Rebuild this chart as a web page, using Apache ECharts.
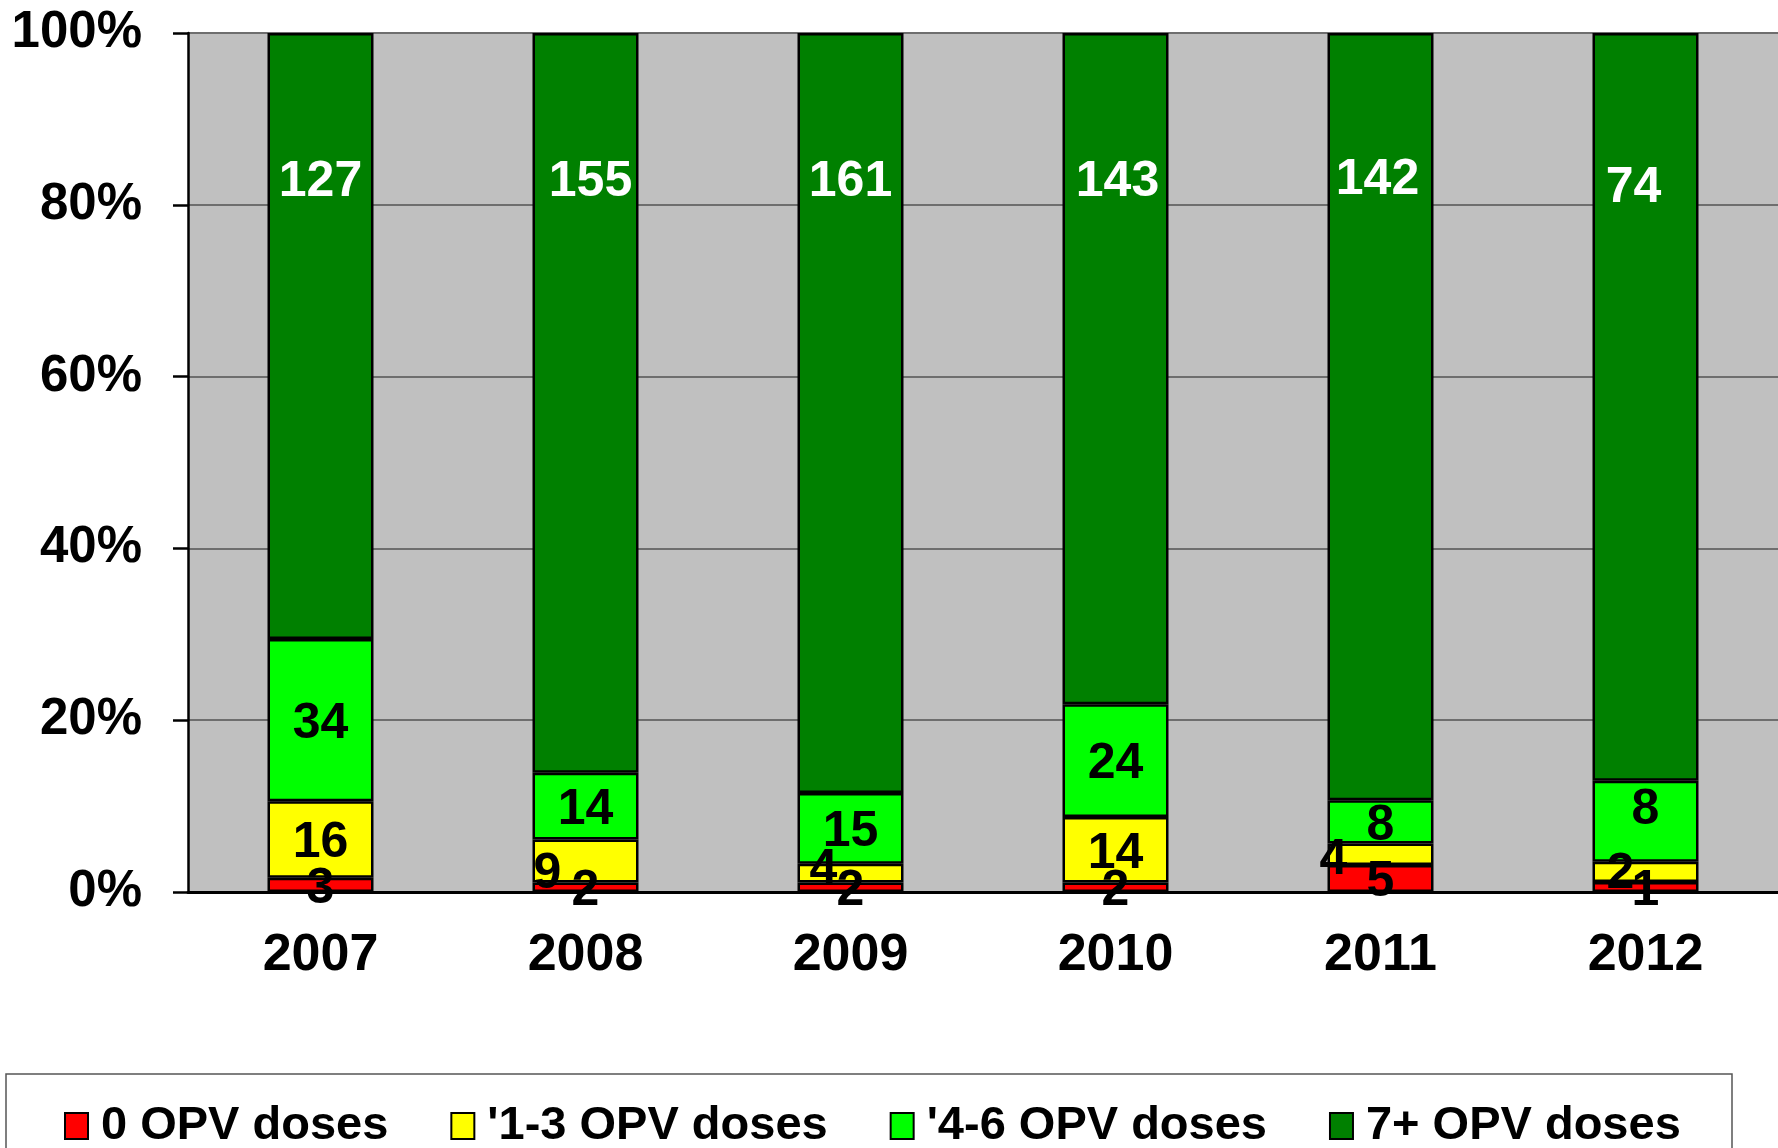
<!DOCTYPE html>
<html>
<head>
<meta charset="utf-8">
<script src="https://cdn.jsdelivr.net/npm/echarts@6/dist/echarts.min.js"></script>
<style>
  html, body { margin: 0; padding: 0; background: #fff; }
  #chart { width: 1778px; height: 1148px; }
</style>
</head>
<body>
<div id="chart"></div>
<script>
// chart values
var years = ["2007", "2008", "2009", "2010", "2011", "2012"];
var zeroDoses = [3, 2, 2, 2, 5, 1];
var oneToThree = [16, 9, 4, 14, 4, 2];
var fourToSix = [34, 14, 15, 24, 8, 8];
var sevenPlus = [127, 155, 161, 143, 142, 74];
var seriesNames = ["0 OPV doses", "'1-3 OPV doses", "'4-6 OPV doses", "7+ OPV doses"];
var yTicks = [0, 20, 40, 60, 80, 100];

var FONT = "Liberation Sans";
var counts = [zeroDoses, oneToThree, fourToSix, sevenPlus];
var colors = ["#ff0000", "#ffff00", "#00ff00", "#008000"];

var totals = years.map(function (y, i) {
  return counts.reduce(function (s, arr) { return s + arr[i]; }, 0);
});

// hand-placed label nudges, as in the original
var labelNudge = {
  1: { 1: [-38, 9], 2: [-27, -7], 4: [-47, 2], 5: [-25, -2] },
  2: { 5: [0, -15] },
  3: { 1: [5, 0], 3: [2, 0], 4: [-3, -2], 5: [-12, 6] }
};

var chart = echarts.init(document.getElementById("chart"));

var series = counts.map(function (arr, si) {
  return {
    name: seriesNames[si],
    type: "bar",
    stack: "all",
    barWidth: 106,
    itemStyle: { color: colors[si], borderColor: "#000", borderWidth: 2.5 },
    label: {
      show: true,
      position: si === 3 ? ["50%", 145] : "inside",
      align: "center",
      verticalAlign: "middle",
      offset: [0, 4],
      fontFamily: FONT,
      fontWeight: "bold",
      fontSize: 50,
      color: si === 3 ? "#fff" : "#000",
      formatter: function (p) { return arr[p.dataIndex]; }
    },
    data: arr.map(function (v, i) {
      var item = { value: (v / totals[i]) * 100 };
      var nudge = labelNudge[si] && labelNudge[si][i];
      if (nudge) item.label = { offset: [nudge[0], nudge[1] + 4] };
      return item;
    })
  };
});

chart.setOption({
  animation: false,
  backgroundColor: "#fff",
  grid: { left: 188, top: 33, width: 1597, height: 859, backgroundColor: "#c0c0c0", show: true, borderWidth: 0 },
  xAxis: {
    type: "category",
    data: years,
    axisLine: { lineStyle: { color: "#000", width: 3 } },
    axisTick: { length: 15, lineStyle: { color: "#808080", width: 1.5 } },
    axisLabel: { fontFamily: FONT, fontWeight: "bold", fontSize: 52, color: "#000", margin: 38, lineHeight: 52 }
  },
  yAxis: {
    type: "value",
    min: yTicks[0],
    max: yTicks[yTicks.length - 1],
    interval: 20,
    axisLine: { show: true, lineStyle: { color: "#000", width: 2.5 } },
    axisTick: { show: true, length: 15, lineStyle: { color: "#000", width: 2.5 } },
    splitLine: { lineStyle: { color: "#6e6e6e", width: 2 } },
    axisLabel: {
      fontFamily: FONT, fontWeight: "bold", fontSize: 51, color: "#000", margin: 46,
      formatter: "{value}%"
    }
  },
  legend: {
    left: 64,
    top: 1100,
    padding: 0,
    itemGap: 62,
    itemWidth: 23,
    itemHeight: 26,
    icon: "rect",
    itemStyle: { borderColor: "#000", borderWidth: 2 },
    textStyle: { fontFamily: FONT, fontWeight: "bold", fontSize: 47, color: "#000", lineHeight: 52, padding: [0, 0, 0, 8] },
    data: seriesNames
  },
  graphic: [{
    type: "rect",
    z: -1,
    shape: { x: 6, y: 1074, width: 1726, height: 110 },
    style: { fill: "#fff", stroke: "#555", lineWidth: 1.5 }
  }],
  series: series
});
</script>
</body>
</html>
